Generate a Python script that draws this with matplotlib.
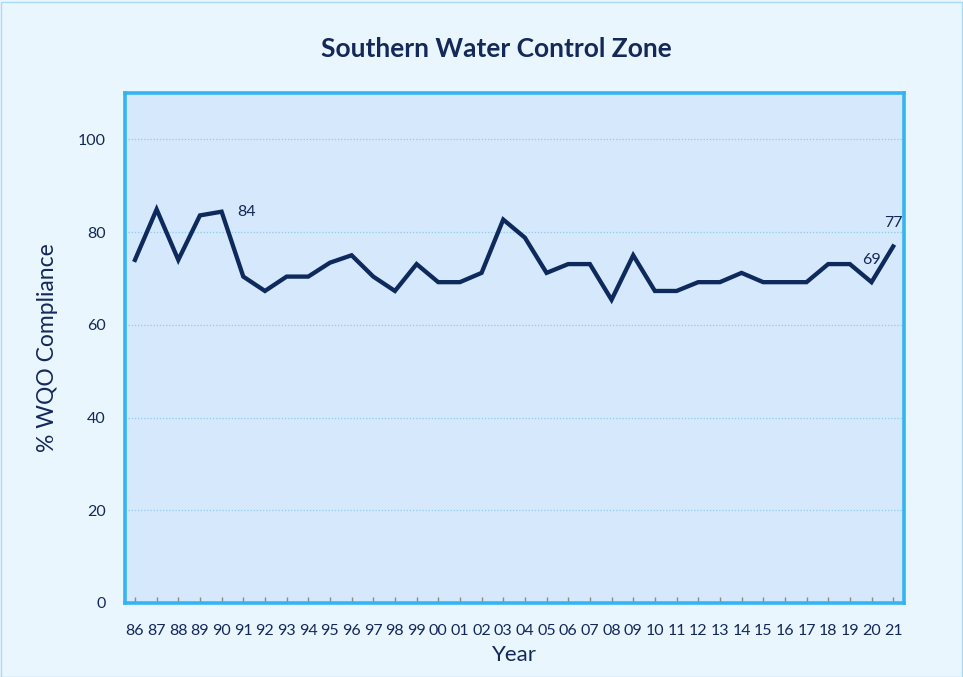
#!/usr/bin/env python3
import matplotlib
matplotlib.use("Agg")
import matplotlib.pyplot as plt
from matplotlib.patches import Rectangle

years = ["86", "87", "88", "89", "90", "91", "92", "93", "94", "95", "96", "97",
         "98", "99", "00", "01", "02", "03", "04", "05", "06", "07", "08", "09",
         "10", "11", "12", "13", "14", "15", "16", "17", "18", "19", "20", "21"]
compliance = [74.0, 84.9, 74.0, 83.6, 84.4, 70.4, 67.3, 70.4, 70.4, 73.4, 75.0, 70.4,
              67.3, 73.1, 69.2, 69.2, 71.2, 82.7, 78.8, 71.2, 73.1, 73.1, 65.4, 75.0,
              67.3, 67.3, 69.2, 69.2, 71.2, 69.2, 69.2, 69.2, 73.1, 73.1, 69.2, 76.9]
# points that carry a value label: (index, text, offset in points)
labelled = [(4, "84", (18, 0)), (34, "69", (0, 16)), (35, "77", (0, 17))]

navy = "#0E2A5C"
text_col = "#14285A"
plt.rcParams["font.family"] = ["Lato", "DejaVu Sans"]

W, H = 963, 677
fig = plt.figure(figsize=(W / 100, H / 100), dpi=100, facecolor="#EAF6FE")
fig.patches.append(Rectangle((0.5 / W, 0.5 / H), 1 - 2 / W, 1 - 2 / H, transform=fig.transFigure,
                             fill=False, edgecolor="#A9DAF7", linewidth=1))

ax = fig.add_axes([125 / W, (H - 603) / H, (904 - 125) / W, (603 - 93) / H])
ax.set_facecolor("#D5E8FC")

x = list(range(len(years)))
ax.plot(x, compliance, color=navy, linewidth=3.1, solid_joinstyle="miter", zorder=3)

for i, txt, off in labelled:
    ax.annotate(txt, (i, compliance[i]), xytext=off, textcoords="offset points",
                ha="center", va="center", fontsize=11.5, color=text_col)

ax.set_xlim(-0.46, 35.5)
ax.set_ylim(0, 110)
ax.set_xticks(x)
ax.set_xticklabels(years)
ax.set_yticks([0, 20, 40, 60, 80, 100])

ax.grid(axis="y", linestyle=(0, (1, 1.5)), color="#8CCBF2", linewidth=0.9)
ax.set_axisbelow(True)

for s in ax.spines.values():
    s.set_color("#35B4F4")
    s.set_linewidth(2.6)

ax.tick_params(axis="x", direction="in", length=4, color="#8A8A8A", width=1,
               labelsize=11.5, labelcolor=text_col, pad=15)
ax.tick_params(axis="y", length=0, labelsize=11.5, labelcolor=text_col, pad=14)

ax.set_xlabel("Year", fontsize=16, color=text_col, labelpad=5)
ax.set_ylabel("% WQO Compliance", fontsize=16.5, color=text_col, labelpad=14)
fig.text(496 / W, 1 - 49 / H, "Southern Water Control Zone", ha="center", va="center",
         fontsize=19, fontweight="bold", color=text_col)

fig.savefig("out.png", dpi=100, facecolor=fig.get_facecolor())
